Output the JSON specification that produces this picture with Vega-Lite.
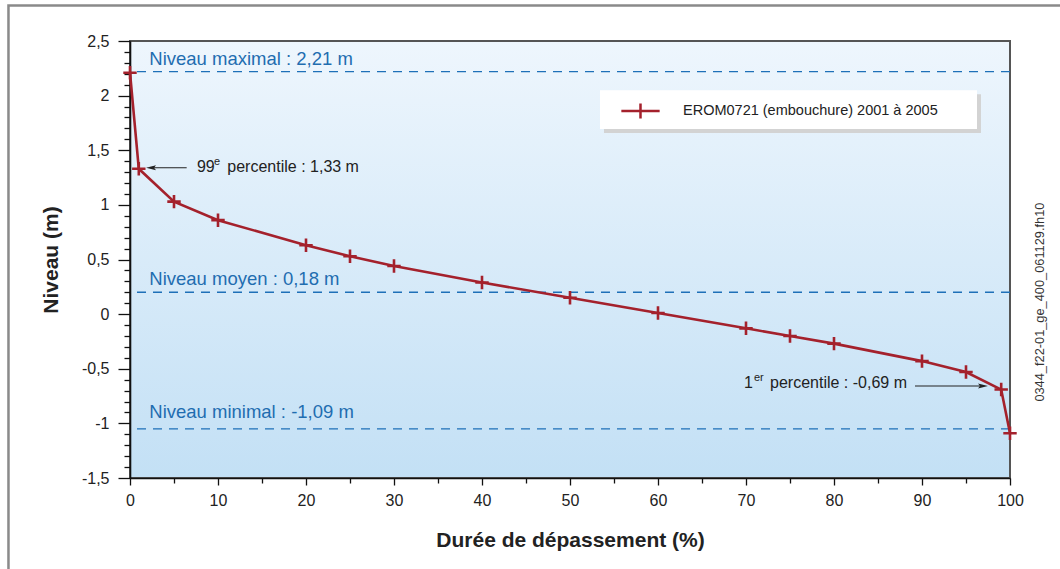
{
  "$schema": "https://vega.github.io/schema/vega-lite/v6.json",
  "width": 880,
  "height": 437,
  "autosize": {"type": "none"},
  "padding": {"left": 130, "top": 41, "right": 50, "bottom": 91},
  "background": "white",
  "datasets": {
    "courbe": [
      {"duree": 0, "niveau": 2.21, "serie": "EROM0721 (embouchure) 2001 à 2005"},
      {"duree": 1, "niveau": 1.33, "serie": "EROM0721 (embouchure) 2001 à 2005"},
      {"duree": 5, "niveau": 1.03, "serie": "EROM0721 (embouchure) 2001 à 2005"},
      {"duree": 10, "niveau": 0.86, "serie": "EROM0721 (embouchure) 2001 à 2005"},
      {"duree": 20, "niveau": 0.63, "serie": "EROM0721 (embouchure) 2001 à 2005"},
      {"duree": 25, "niveau": 0.53, "serie": "EROM0721 (embouchure) 2001 à 2005"},
      {"duree": 30, "niveau": 0.44, "serie": "EROM0721 (embouchure) 2001 à 2005"},
      {"duree": 40, "niveau": 0.29, "serie": "EROM0721 (embouchure) 2001 à 2005"},
      {"duree": 50, "niveau": 0.15, "serie": "EROM0721 (embouchure) 2001 à 2005"},
      {"duree": 60, "niveau": 0.01, "serie": "EROM0721 (embouchure) 2001 à 2005"},
      {"duree": 70, "niveau": -0.13, "serie": "EROM0721 (embouchure) 2001 à 2005"},
      {"duree": 75, "niveau": -0.2, "serie": "EROM0721 (embouchure) 2001 à 2005"},
      {"duree": 80, "niveau": -0.27, "serie": "EROM0721 (embouchure) 2001 à 2005"},
      {"duree": 90, "niveau": -0.43, "serie": "EROM0721 (embouchure) 2001 à 2005"},
      {"duree": 95, "niveau": -0.53, "serie": "EROM0721 (embouchure) 2001 à 2005"},
      {"duree": 99, "niveau": -0.69, "serie": "EROM0721 (embouchure) 2001 à 2005"},
      {"duree": 100, "niveau": -1.09, "serie": "EROM0721 (embouchure) 2001 à 2005"}
    ],
    "niveaux": [
      {"niveau": 2.22},
      {"niveau": 0.2},
      {"niveau": -1.05}
    ]
  },
  "config": {
    "font": "Liberation Sans",
    "view": {
      "fill": {"gradient": "linear", "x1": 0, "y1": 0, "x2": 0, "y2": 1,
        "stops": [{"offset": 0, "color": "#eef6fd"}, {"offset": 1, "color": "#c3e0f5"}]},
      "stroke": "#555555",
      "strokeWidth": 2
    },
    "axis": {
      "grid": false,
      "domainColor": "#111111",
      "domainWidth": 1.6,
      "tickColor": "#111111",
      "tickWidth": 1.3,
      "labelFont": "Liberation Sans",
      "labelFontSize": 16,
      "labelColor": "#222222",
      "labelFlush": false,
      "labelOverlap": false,
      "labelBound": false,
      "titleFont": "Liberation Sans",
      "titleFontSize": 21,
      "titleFontWeight": "bold",
      "titleColor": "#222222"
    }
  },
  "layer": [
    {
      "data": {"values": [{}]},
      "mark": {"type": "rect", "fill": "transparent", "stroke": "#8a8a8a", "strokeWidth": 2.5, "clip": false},
      "encoding": {
        "x": {
          "datum": -13.81, "type": "quantitative",
          "scale": {"domain": [0, 100], "nice": false},
          "axis": {
            "title": "Durée de dépassement (%)",
            "values": [0, 5, 10, 15, 20, 25, 30, 35, 40, 45, 50, 55, 60, 65, 70, 75, 80, 85, 90, 95, 100],
            "tickCount": 100,
            "labelExpr": "datum.value % 10 === 0 ? datum.label : ''",
            "tickSize": {"condition": {"test": "datum.value % 10 === 0", "value": 7}, "value": 5},
            "labelOverlap": false,
            "labelPadding": 7,
            "titlePadding": 21
          }
        },
        "x2": {"datum": 112},
        "y": {
          "datum": 2.826, "type": "quantitative",
          "scale": {"domain": [-1.5, 2.5], "nice": false},
          "axis": {
            "title": "Niveau (m)",
            "values": [-1.5, -1.4, -1.3, -1.2, -1.1, -1, -0.9, -0.8, -0.7, -0.6, -0.5, -0.4, -0.3, -0.2, -0.1, 0, 0.1, 0.2, 0.3, 0.4, 0.5, 0.6, 0.7, 0.8, 0.9, 1, 1.1, 1.2, 1.3, 1.4, 1.5, 1.6, 1.7, 1.8, 1.9, 2, 2.1, 2.2, 2.3, 2.4, 2.5],
            "tickCount": 100,
            "labelExpr": "datum.value % 0.5 === 0 ? replace(toString(datum.value), '.', ',') : ''",
            "tickSize": {"condition": {"test": "datum.value % 0.5 === 0", "value": 12}, "value": 6},
            "labelOverlap": false,
            "labelPadding": 9,
            "titlePadding": 20
          }
        },
        "y2": {"datum": -2.6}
      }
    },
    {
      "data": {"values": [{}]},
      "mark": {"type": "rect", "fill": "#d3d3d3"},
      "encoding": {
        "x": {"datum": 53.86, "type": "quantitative"},
        "x2": {"datum": 96.7},
        "y": {"datum": 2.013, "type": "quantitative"},
        "y2": {"datum": 1.658}
      }
    },
    {
      "data": {"values": [{}]},
      "mark": {"type": "rect", "fill": "#ffffff"},
      "encoding": {
        "x": {"datum": 53.41, "type": "quantitative"},
        "x2": {"datum": 96.25},
        "y": {"datum": 2.05, "type": "quantitative"},
        "y2": {"datum": 1.695}
      }
    },
    {
      "data": {"name": "niveaux"},
      "mark": {"type": "rule", "color": "#1e70b8", "strokeWidth": 1.3, "strokeDash": [9, 7]},
      "encoding": {
        "y": {"field": "niveau", "type": "quantitative"}
      }
    },
    {
      "data": {"values": [{}]},
      "mark": {"type": "text", "text": "Niveau maximal : 2,21 m", "align": "left", "baseline": "middle", "fontSize": 18.5, "color": "#1f6db0"},
      "encoding": {
        "x": {"datum": 2.19, "type": "quantitative"},
        "y": {"datum": 2.333, "type": "quantitative"}
      }
    },
    {
      "data": {"values": [{}]},
      "mark": {"type": "text", "text": "Niveau moyen : 0,18 m", "align": "left", "baseline": "middle", "fontSize": 18.5, "color": "#1f6db0"},
      "encoding": {
        "x": {"datum": 2.19, "type": "quantitative"},
        "y": {"datum": 0.319, "type": "quantitative"}
      }
    },
    {
      "data": {"values": [{}]},
      "mark": {"type": "text", "text": "Niveau minimal : -1,09 m", "align": "left", "baseline": "middle", "fontSize": 18.5, "color": "#1f6db0"},
      "encoding": {
        "x": {"datum": 2.19, "type": "quantitative"},
        "y": {"datum": -0.899, "type": "quantitative"}
      }
    },
    {
      "data": {"name": "courbe"},
      "mark": {"type": "line", "strokeWidth": 2.6, "clip": false},
      "encoding": {
        "x": {"field": "duree", "type": "quantitative"},
        "y": {"field": "niveau", "type": "quantitative"},
        "color": {
          "field": "serie", "type": "nominal",
          "scale": {"range": ["#a4212c"]},
          "legend": {
            "orient": "none",
            "legendX": 490,
            "legendY": 49.5,
            "title": null,
            "padding": 0,
            "symbolType": "M-1,0L1,0M0,-0.39L0,0.39",
            "symbolSize": 1467,
            "symbolStrokeWidth": 2.5,
            "symbolFillColor": "transparent",
            "labelFont": "Liberation Sans",
            "labelFontSize": 14.5,
            "labelColor": "#222222",
            "labelOffset": 22,
            "labelLimit": 400
          }
        }
      }
    },
    {
      "data": {"name": "courbe"},
      "mark": {"type": "point", "shape": "M-1,0L1,0M0,-1L0,1", "filled": false, "size": 180, "strokeWidth": 2.6, "color": "#a4212c", "opacity": 1, "clip": false},
      "encoding": {
        "x": {"field": "duree", "type": "quantitative"},
        "y": {"field": "niveau", "type": "quantitative"}
      }
    },
    {
      "data": {"values": [{}]},
      "mark": {"type": "rule", "color": "#222222", "strokeWidth": 1.1},
      "encoding": {
        "x": {"datum": 6.44, "type": "quantitative"},
        "x2": {"datum": 2.4},
        "y": {"datum": 1.34, "type": "quantitative"}
      }
    },
    {
      "data": {"values": [{}]},
      "mark": {"type": "point", "shape": "M-1,0L1,-0.5L0.6,0L1,0.5Z", "filled": true, "size": 100, "color": "#222222", "opacity": 1},
      "encoding": {
        "x": {"datum": 2.39, "type": "quantitative"},
        "y": {"datum": 1.34, "type": "quantitative"}
      }
    },
    {
      "data": {"values": [{}]},
      "mark": {"type": "text", "text": "99", "align": "left", "baseline": "middle", "fontSize": 16, "color": "#222222"},
      "encoding": {
        "x": {"datum": 7.6, "type": "quantitative"},
        "y": {"datum": 1.343, "type": "quantitative"}
      }
    },
    {
      "data": {"values": [{}]},
      "mark": {"type": "text", "text": "e", "align": "left", "baseline": "middle", "fontSize": 11, "dy": -5, "color": "#222222"},
      "encoding": {
        "x": {"datum": 9.55, "type": "quantitative"},
        "y": {"datum": 1.343, "type": "quantitative"}
      }
    },
    {
      "data": {"values": [{}]},
      "mark": {"type": "text", "text": "percentile : 1,33 m", "align": "left", "baseline": "middle", "fontSize": 16, "color": "#222222"},
      "encoding": {
        "x": {"datum": 11.06, "type": "quantitative"},
        "y": {"datum": 1.343, "type": "quantitative"}
      }
    },
    {
      "data": {"values": [{}]},
      "mark": {"type": "rule", "color": "#222222", "strokeWidth": 1.1},
      "encoding": {
        "x": {"datum": 89.2, "type": "quantitative"},
        "x2": {"datum": 96.6},
        "y": {"datum": -0.658, "type": "quantitative"}
      }
    },
    {
      "data": {"values": [{}]},
      "mark": {"type": "point", "shape": "M1,0L-1,-0.5L-0.6,0L-1,0.5Z", "filled": true, "size": 100, "color": "#222222", "opacity": 1},
      "encoding": {
        "x": {"datum": 96.93, "type": "quantitative"},
        "y": {"datum": -0.658, "type": "quantitative"}
      }
    },
    {
      "data": {"values": [{}]},
      "mark": {"type": "text", "text": "1", "align": "left", "baseline": "middle", "fontSize": 16, "color": "#222222"},
      "encoding": {
        "x": {"datum": 69.77, "type": "quantitative"},
        "y": {"datum": -0.63, "type": "quantitative"}
      }
    },
    {
      "data": {"values": [{}]},
      "mark": {"type": "text", "text": "er", "align": "left", "baseline": "middle", "fontSize": 11, "dy": -5, "color": "#222222"},
      "encoding": {
        "x": {"datum": 70.9, "type": "quantitative"},
        "y": {"datum": -0.63, "type": "quantitative"}
      }
    },
    {
      "data": {"values": [{}]},
      "mark": {"type": "text", "text": "percentile : -0,69 m", "align": "left", "baseline": "middle", "fontSize": 16, "color": "#222222"},
      "encoding": {
        "x": {"datum": 72.73, "type": "quantitative"},
        "y": {"datum": -0.63, "type": "quantitative"}
      }
    },
    {
      "data": {"values": [{}]},
      "mark": {"type": "text", "text": "0344_f22-01_ge_400_061129.fh10", "align": "center", "baseline": "middle", "angle": 270, "fontSize": 12.8, "color": "#333333", "clip": false},
      "encoding": {
        "x": {"datum": 103.4, "type": "quantitative"},
        "y": {"datum": 0.11, "type": "quantitative"}
      }
    }
  ]
}
